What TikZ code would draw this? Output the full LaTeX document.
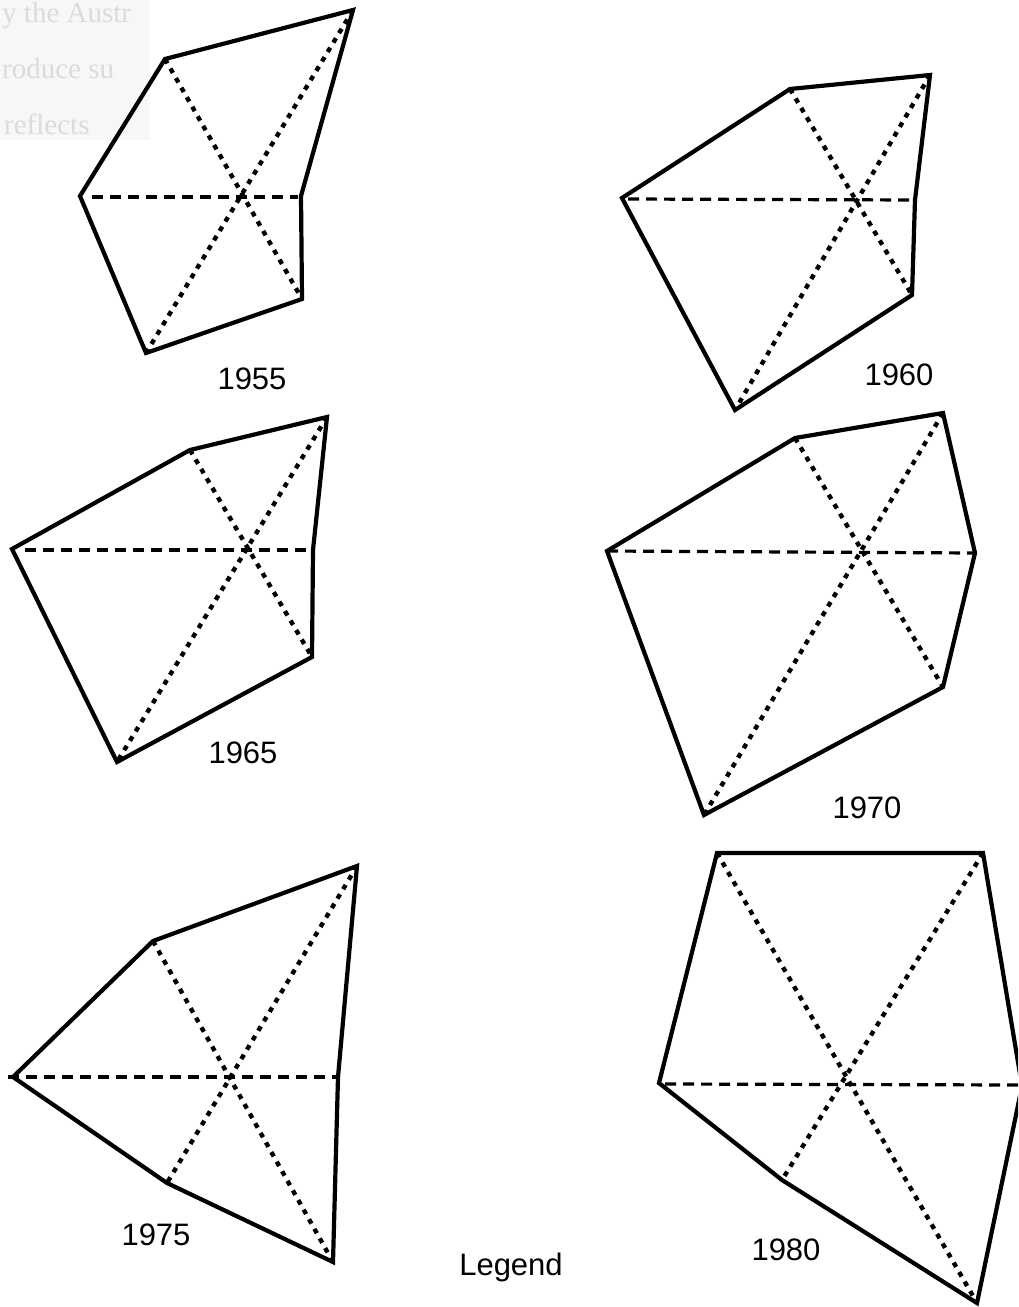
\documentclass[tikz,border=0pt]{standalone}
\usepackage{fontspec}
\setmainfont{Liberation Sans}
\newfontfamily\scanfont{Liberation Serif}
\tikzset{
  outline/.style={line width=4.2pt, line join=miter, line cap=round},
  hdash/.style={line width=3.2pt, dash pattern=on 11pt off 7pt},
  diag/.style={line width=4.4pt, dash pattern=on 5pt off 6pt},
  yearlabel/.style={font=\fontsize{31}{31}\selectfont, inner sep=0pt, anchor=base},
  ghost/.style={font=\scanfont\fontsize{29}{29}\selectfont, text=black!14, inner sep=0pt, anchor=base west}
}
\newcommand\hexfig[9]{%
  % #1 prefix, #2 L, #3 TL, #4 TR, #5 R, #6 BR, #7 B, #8 dashed start, #9 dashed end
  \coordinate (#1L) at #2;
  \coordinate (#1TL) at #3;
  \coordinate (#1TR) at #4;
  \coordinate (#1R) at #5;
  \coordinate (#1BR) at #6;
  \coordinate (#1B) at #7;
  \coordinate (#1hs) at #8;
  \coordinate (#1he) at #9;
  \draw[outline] (#1L) -- (#1TL) -- (#1TR) -- (#1R) -- (#1BR) -- (#1B) -- cycle;
  \draw[hdash] (#1hs) -- (#1he);
  \draw[diag] (#1TL) -- (#1BR);
  \draw[diag] (#1TR) -- (#1B);
}
\begin{document}
\begin{tikzpicture}[x=1pt,y=-1pt]
\useasboundingbox (0,0) rectangle (1018,1307);
\clip (0,0) rectangle (1018,1307);

% faint scanned text fragment
\fill[black!3] (0,0) rectangle (150,140);
\node[ghost] (g1) at (2,22) {y the Austr};
\node[ghost] (g2) at (2,78) {roduce su};
\node[ghost] (g3) at (4,134) {reflects};

% 1955
\hexfig{a}{(80,196)}{(165,59)}{(353,10)}{(301,196)}{(302,299)}{(146,353)}{(92,197)}{(298,197)}
% 1960
\hexfig{b}{(622,198)}{(790,89)}{(930,75)}{(915,200)}{(912,295)}{(735,410)}{(628,199)}{(915,200)}
% 1965
\hexfig{c}{(12,549)}{(190,450)}{(327,417)}{(313,550)}{(312,657)}{(117,762)}{(25,550)}{(313,550)}
% 1970
\hexfig{d}{(607,551)}{(795,438)}{(943,413)}{(975,553)}{(943,687)}{(704,815)}{(607,551)}{(975,553)}
% 1975
\hexfig{e}{(13,1077)}{(153,941)}{(357,866)}{(338,1077)}{(333,1262)}{(167,1183)}{(8,1077)}{(338,1077)}
% 1980
\hexfig{f}{(659,1083)}{(717,853)}{(983,853)}{(1022,1086)}{(977,1303)}{(782,1180)}{(665,1084)}{(1018,1085)}

% labels
\node[yearlabel] (l55) at (252,389) {1955};
\node[yearlabel] (l60) at (899,385) {1960};
\node[yearlabel] (l65) at (243,763) {1965};
\node[yearlabel] (l70) at (867,818) {1970};
\node[yearlabel] (l75) at (156,1245) {1975};
\node[yearlabel] (l80) at (786,1260) {1980};
\node[yearlabel] (leg) at (511,1275) {Legend};
\end{tikzpicture}
\end{document}
